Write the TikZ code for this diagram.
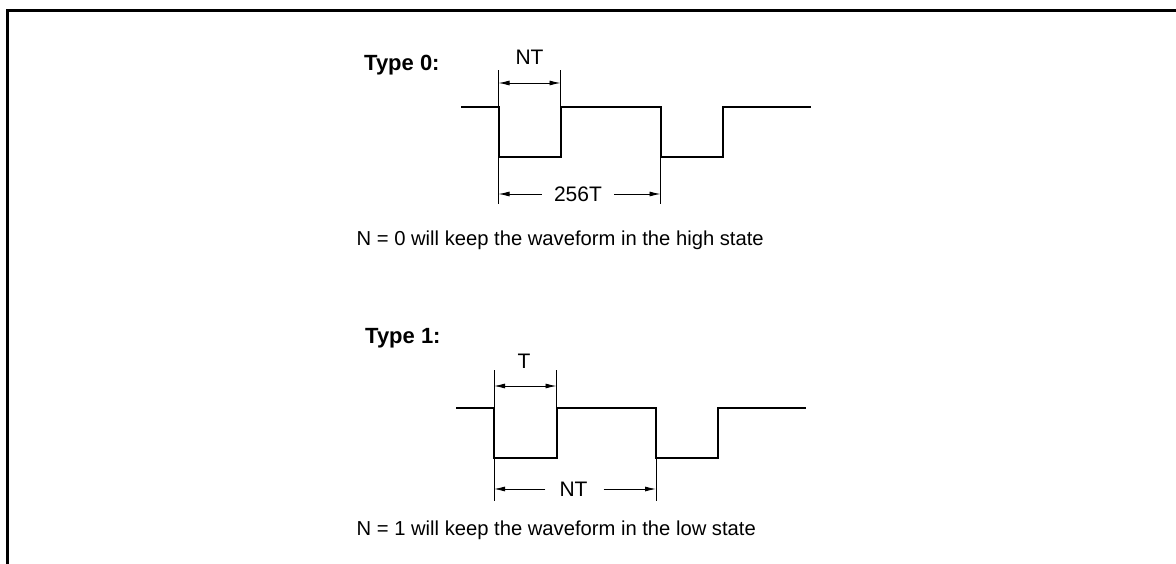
\documentclass[tikz,border=0pt]{standalone}
\usepackage{fontspec}
\setmainfont{Liberation Sans}
\usetikzlibrary{arrows.meta}
\tikzset{
  wave/.style={line width=2pt, line join=miter},
  ext/.style={line width=0.9pt},
  dim/.style={line width=0.9pt, -{Latex[length=11pt,width=5pt]}},
  lbl/.style={inner sep=0pt, font=\fontsize{21}{24}\selectfont},
  note/.style={inner sep=0pt, anchor=base west, font=\fontsize{20.2}{24}\selectfont},
  head/.style={inner sep=0pt, anchor=base west, font=\fontsize{22}{26}\selectfont\bfseries},
}
\begin{document}
\begin{tikzpicture}[x=1pt,y=-1pt]
\useasboundingbox (0,0) rectangle (1176,564);
% frame
\draw[line width=2.4pt] (7.5,564) -- (7.5,10.5) -- (1176,10.5);

% ---------- Type 0 ----------
\node[head] (h0) at (364,71) {Type 0:};
\coordinate (a0s) at (461,107);
\coordinate (a0f1) at (498.5,107);
\coordinate (a0f1l) at (498.5,157);
\coordinate (a0r1l) at (560.5,157);
\coordinate (a0r1) at (560.5,107);
\coordinate (a0f2) at (660.5,107);
\coordinate (a0f2l) at (660.5,157);
\coordinate (a0r2l) at (722.5,157);
\coordinate (a0r2) at (722.5,107);
\coordinate (a0e) at (811,107);
% extension lines
\coordinate (x0a) at (498.5,70.5);
\coordinate (x0b) at (560.5,70.5);
\coordinate (x0c) at (498.5,204);
\coordinate (x0d) at (660.5,204);
\draw[ext] (x0a) -- (a0f1);
\draw[ext] (x0b) -- (a0r1);
\draw[ext] (a0f1l) -- (x0c);
\draw[ext] (a0f2l) -- (x0d);
\draw[wave] (a0s) -- (a0f1) -- (a0f1l) -- (a0r1l) -- (a0r1) -- (a0f2) -- (a0f2l) -- (a0r2l) -- (a0r2) -- (a0e);
% NT dimension
\coordinate (d0a) at (498.5,83);
\coordinate (d0b) at (560.5,83);
\draw[ext,{Latex[length=11pt,width=5pt]}-{Latex[length=11pt,width=5pt]}] (d0a) -- (d0b);
\node[lbl, anchor=base] (nt0) at (529.5,65) {NT};
% 256T dimension
\node[lbl] (t256) at (578,194) {256T};
\coordinate (d0c) at (498.5,194);
\coordinate (d0d) at (660.5,194);
\draw[dim] ([xshift=-12pt]t256.west) -- (d0c);
\draw[dim] ([xshift=12pt]t256.east) -- (d0d);
\node[note] (n0) at (356.5,245.7) {N = 0 will keep the waveform in the high state};

% ---------- Type 1 ----------
\node[head] (h1) at (365,343.3) {Type 1:};
\coordinate (b0s) at (456,407.5);
\coordinate (b0f1) at (494,407.5);
\coordinate (b0f1l) at (494,457.5);
\coordinate (b0r1l) at (556.5,457.5);
\coordinate (b0r1) at (556.5,407.5);
\coordinate (b0f2) at (656,407.5);
\coordinate (b0f2l) at (656,457.5);
\coordinate (b0r2l) at (718,457.5);
\coordinate (b0r2) at (718,407.5);
\coordinate (b0e) at (806,407.5);
\coordinate (x1a) at (494,370);
\coordinate (x1b) at (556.5,370);
\coordinate (x1c) at (494,501);
\coordinate (x1d) at (656,501);
\draw[ext] (x1a) -- (b0f1);
\draw[ext] (x1b) -- (b0r1);
\draw[ext] (b0f1l) -- (x1c);
\draw[ext] (b0f2l) -- (x1d);
\draw[wave] (b0s) -- (b0f1) -- (b0f1l) -- (b0r1l) -- (b0r1) -- (b0f2) -- (b0f2l) -- (b0r2l) -- (b0r2) -- (b0e);
\coordinate (d1a) at (494,386);
\coordinate (d1b) at (556.5,386);
\draw[ext,{Latex[length=11pt,width=5pt]}-{Latex[length=11pt,width=5pt]}] (d1a) -- (d1b);
\node[lbl, anchor=base] (t1) at (524,368) {T};
\node[lbl] (nt1) at (573.5,489) {NT};
\coordinate (d1c) at (494,489);
\coordinate (d1d) at (656,489);
\draw[dim] ([xshift=-14pt]nt1.west) -- (d1c);
\draw[dim] ([xshift=16pt]nt1.east) -- (d1d);
\node[note] (n1) at (356.5,535) {N = 1 will keep the waveform in the low state};
\end{tikzpicture}
\end{document}
